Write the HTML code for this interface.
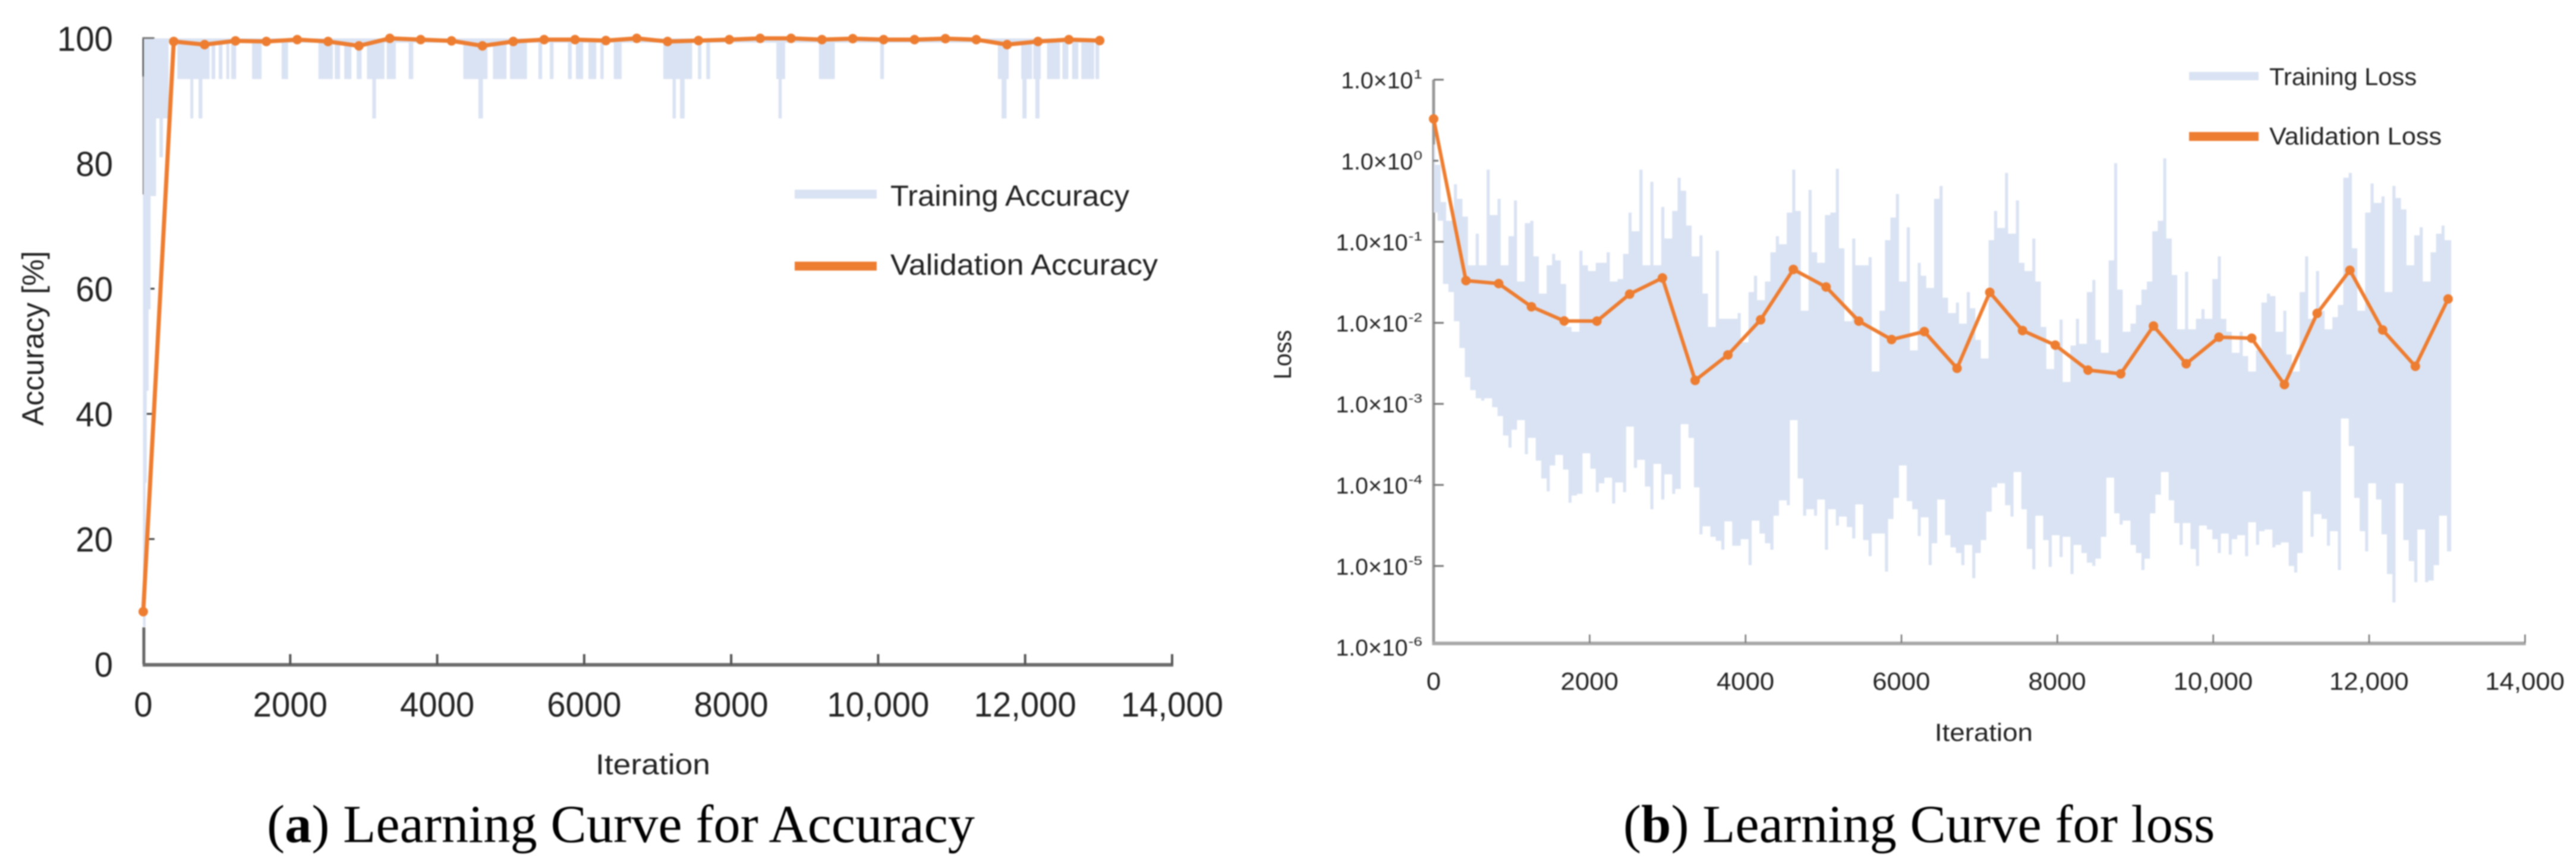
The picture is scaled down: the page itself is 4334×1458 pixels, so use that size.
<!DOCTYPE html>
<html lang="en">
<head>
<meta charset="utf-8">
<title>Learning curves for accuracy and loss</title>
<style>
html,body{margin:0;padding:0;background:#fff;width:4334px;height:1458px;overflow:hidden}
svg{display:block;filter:blur(1px)}
text{font-family:"Liberation Sans",sans-serif;fill:#222}
.cap{font-family:"Liberation Serif",serif;font-size:90.5px;fill:#000}
</style>
</head>
<body>
<svg id="figure" width="4334" height="1458" viewBox="0 0 4334 1458" xmlns="http://www.w3.org/2000/svg">
  <g id="panelA"></g>
  <g id="panelB"></g>

  <text transform="translate(73,716) rotate(-90)" font-size="51" textLength="294" lengthAdjust="spacingAndGlyphs" fill="#333">Accuracy [%]</text>
  <text x="1002" y="1302" font-size="48" textLength="193" lengthAdjust="spacingAndGlyphs" fill="#333">Iteration</text>
  <text transform="translate(2172,638) rotate(-90)" font-size="42" textLength="83" lengthAdjust="spacingAndGlyphs" fill="#333">Loss</text>
  <text x="3255" y="1246" font-size="42" textLength="165" lengthAdjust="spacingAndGlyphs" fill="#333">Iteration</text>

  <g>
    <rect x="1337" y="319" width="138" height="15" fill="#dae3f3"/>
    <text x="1498" y="346" font-size="49" textLength="402" lengthAdjust="spacingAndGlyphs">Training Accuracy</text>
    <rect x="1337" y="440" width="138" height="15" fill="#ed7d31"/>
    <text x="1498" y="462" font-size="49" textLength="450" lengthAdjust="spacingAndGlyphs">Validation Accuracy</text>
  </g>
  <g>
    <rect x="3683" y="121" width="117" height="14" fill="#dae3f3"/>
    <text x="3818" y="143" font-size="41" textLength="248" lengthAdjust="spacingAndGlyphs">Training Loss</text>
    <rect x="3683" y="222" width="117" height="15" fill="#ed7d31"/>
    <text x="3818" y="243" font-size="41" textLength="290" lengthAdjust="spacingAndGlyphs">Validation Loss</text>
  </g>

  <text class="cap" x="449" y="1416">(<tspan font-weight="bold">a</tspan>) Learning Curve for Accuracy</text>
  <text class="cap" x="2731" y="1416">(<tspan font-weight="bold">b</tspan>) Learning Curve for loss</text>
</svg>
<script>
// ---------- shared data ----------
const xTicks = [0, 2000, 4000, 6000, 8000, 10000, 12000, 14000];
const xTickLabels = ['0', '2000', '4000', '6000', '8000', '10,000', '12,000', '14,000'];
const validationIterations = [0,415,835,1255,1675,2095,2515,2935,3355,3775,4195,4615,5035,5455,5875,6295,6715,7135,7555,7975,8395,8815,9235,9655,10075,10495,10915,11335,11755,12175,12595,13015];

// ---------- accuracy chart data ----------
const accuracyTicks = [0, 20, 40, 60, 80, 100];
const validationAccuracy = [8.4,99.5,99.0,99.6,99.5,99.8,99.5,98.8,100,99.8,99.6,98.8,99.5,99.8,99.8,99.65,100,99.5,99.65,99.8,100,100,99.8,99.95,99.8,99.8,99.95,99.8,99.0,99.5,99.8,99.65];
const trainSpanStart = [0,0,0,0,0,0,0,221,464,929,1027,1130,1197,1481,1883,2384,2606,2735,2905,3044,3313,3612,4355,4758,4990,5377,5532,5779,5888,6058,6220,6402,7077,7548,7662,8615,9194,10028,11629,11947,12111,12298,12508,12639,12764,12957,640,753,3117,4561,7202,7304,8644,11680,11963,12139];
const trainSpanEnd = [13008,32,48,73,100,175,345,268,903,980,1078,1171,1264,1610,1971,2580,2678,2833,2972,3282,3437,3674,4685,4943,5222,5428,5583,5831,5986,6164,6266,6510,7469,7594,7713,8734,9410,10079,11776,12094,12213,12474,12588,12724,12940,13008,681,805,3168,4623,7248,7367,8689,11748,12020,12196];
const trainSpanLevel = [99.3,6,29,43.7,56.7,74.8,87.2,81,93.5,93.5,93.5,93.5,93.5,93.5,93.5,93.5,93.5,93.5,93.5,93.5,93.5,93.5,93.5,93.5,93.5,93.5,93.5,93.5,93.5,93.5,93.5,93.5,93.5,93.5,93.5,93.5,93.5,93.5,93.5,93.5,93.5,93.5,93.5,93.5,93.5,93.5,87.2,87.2,87.2,87.2,87.2,87.2,87.2,87.2,87.2,87.2];

// ---------- loss chart data ----------
const lossTickExponents = [1, 0, -1, -2, -3, -4, -5, -6];
const validationLoss = [3.28,0.0332,0.0305,0.0158,0.01055,0.0105,0.0226,0.0358,0.00195,0.00402,0.0109,0.0456,0.0277,0.0105,0.00622,0.0078,0.00275,0.0238,0.00804,0.00531,0.00261,0.00235,0.00914,0.00313,0.00665,0.00646,0.00173,0.0131,0.0445,0.00817,0.00291,0.0197];
const trainLossSampleEvery = 70;
const trainLossHighExp = [
.20,-.05,-.51,-.74,-.29,-.47,-.69,-1.29,-.90,-1.29,
-.11,-.67,-.47,-1.29,-.93,-.49,-1.49,-.77,-.74,-1.18,
-1.64,-1.29,-1.15,-1.23,-1.52,-2.05,-2.11,-1.11,-1.29,-1.36,
-1.26,-1.26,-1.13,-1.49,-1.46,-1.15,-.64,-.87,-.11,-1.29,
-.26,-1.29,-.57,-.96,-.62,-.21,-.37,-.80,-1.18,-.92,
-1.64,-2.05,-1.11,-1.95,-1.95,-1.95,-1.88,-2.24,-1.62,-1.42,
-1.72,-1.49,-1.13,-.93,-1.03,-.64,-.11,-.62,-1.85,-.36,
-1.13,-1.26,-.67,-.64,-.10,-1.08,-1.98,-.96,-1.29,-1.29,
-1.19,-2.60,-1.85,-.98,-.70,-.41,-1.49,-.82,-2.34,-1.26,
-1.42,-1.57,-.47,-.31,-1.69,-1.88,-1.75,-2.01,-1.62,-1.82,
-2.21,-2.44,-.98,-.62,-.83,-.15,-.90,-.49,-1.26,-1.36,
-.96,-1.49,-2.05,-2.57,-2.28,-1.96,-2.73,-2.28,-1.95,-2.26,
-1.62,-1.47,-2.21,-2.37,-1.23,-.03,-1.59,-2.11,-2.01,-1.78,
-1.59,-1.49,-.87,-.74,.03,-.96,-1.41,-2.08,-1.37,-2.08,
-1.95,-1.83,-1.95,-1.46,-1.18,-1.95,-2.11,-2.37,-2.11,-2.41,
-2.60,-2.34,-1.75,-1.64,-1.67,-2.11,-1.85,-2.39,-2.60,-1.62,
-1.18,-1.95,-1.36,-1.85,-2.08,-1.93,-1.78,-.21,-.15,-1.08,
-1.85,-.64,-.28,-.52,-.44,-1.62,-.31,-.46,-.60,-1.29,
-.92,-.82,-1.49,-1.13,-.90,-.80,-.98];
const trainLossLowExp = [
-.64,-.74,-1.52,-1.62,-1.98,-2.31,-2.67,-2.83,-2.93,-2.96,
-2.93,-3.04,-3.15,-3.39,-3.54,-3.32,-3.20,-3.62,-3.42,-3.70,
-3.92,-4.08,-3.76,-3.63,-3.81,-4.22,-4.13,-4.11,-3.61,-3.80,
-4.09,-3.98,-3.91,-4.23,-3.97,-4.09,-3.28,-3.79,-3.69,-4.02,
-4.30,-3.74,-4.18,-3.87,-4.11,-4.05,-3.25,-3.42,-4.03,-4.61,
-4.51,-4.64,-4.69,-4.80,-4.45,-4.75,-4.75,-4.67,-4.99,-4.44,
-4.60,-4.72,-4.80,-4.38,-4.19,-4.25,-3.20,-3.92,-4.38,-4.30,
-4.38,-4.18,-4.80,-4.30,-4.50,-4.39,-4.52,-4.66,-4.24,-4.68,
-4.88,-4.60,-4.60,-5.07,-4.42,-4.16,-3.76,-4.20,-4.30,-4.63,
-4.40,-4.99,-4.72,-4.18,-4.62,-4.77,-4.84,-4.99,-4.74,-5.15,
-4.84,-4.68,-4.33,-4.03,-3.98,-4.25,-4.39,-3.84,-4.30,-4.79,
-5.04,-4.38,-4.68,-5.01,-4.62,-4.89,-4.64,-5.10,-4.74,-4.84,
-4.96,-5.00,-4.91,-4.64,-3.91,-4.35,-4.49,-4.44,-4.74,-4.84,
-5.05,-4.91,-4.35,-4.12,-3.84,-4.19,-4.47,-4.74,-4.47,-4.79,
-5.00,-4.50,-4.55,-4.67,-4.84,-4.60,-4.86,-4.67,-4.62,-4.88,
-4.46,-4.74,-4.57,-4.55,-4.77,-4.74,-4.71,-5.00,-5.08,-4.84,
-4.08,-4.64,-4.36,-4.42,-4.75,-4.57,-5.05,-3.18,-3.52,-4.16,
-4.57,-4.82,-3.98,-4.18,-4.61,-5.10,-5.45,-3.98,-4.68,-4.94,
-5.20,-4.55,-5.20,-5.18,-4.99,-4.38,-4.82];

// ---------- helpers ----------
const NS = 'http://www.w3.org/2000/svg';
function add(parent, tag, props) {
  const el = document.createElementNS(NS, tag);
  for (const k in props) el.setAttribute(k, props[k]);
  parent.appendChild(el);
  return el;
}
function squeeze(el, k) {
  el.setAttribute('textLength', (el.getComputedTextLength() * k).toFixed(1));
  el.setAttribute('lengthAdjust', 'spacingAndGlyphs');
}

// ---------- axis functions ----------
const xA = it => 241 + it * (1972 - 241) / 14000;
const yA = v => 1117 - v * 10.525;
const xB = it => 2412 + it * (4248 - 2412) / 14000;
const yB = v => 134 + (1 - Math.log10(v)) * 136.3;
const yBExp = e => 134 + (1 - e) * 136.3;

// ---------- accuracy chart ----------
const A = document.getElementById('panelA');
accuracyTicks.forEach(v => {
  const tick = add(A, 'rect', {x: 241, y: yA(v) - 1.5, width: v === 0 ? 0 : 19, height: 3, fill: '#444'});
  
  
  const label = add(A, 'text', {x: 190, y: yA(v) + 21, 'font-size': 58, 'text-anchor': 'end'});
  
  
  label.textContent = String(v);
  squeeze(label, 0.97);
});
trainSpanStart.forEach((s, i) => {
  const x0 = xA(s) - (s === 0 ? 0.5 : 0);
  const bar = add(A, 'rect', {x: x0, y: yA(100), width: xA(trainSpanEnd[i]) - x0, height: yA(trainSpanLevel[i]) - yA(100), fill: '#dae3f3'});
  
  
});
const axA1 = add(A, 'rect', {x: 239.5, y: yA(100) - 1.5, width: 2.5, height: 66, fill: '#555'});


const axA1b = add(A, 'rect', {x: 240, y: 127, width: 1.5, height: 200, fill: '#777'});


const axTop = add(A, 'rect', {x: 239.5, y: yA(100) - 2, width: 19, height: 3, fill: '#777'});


const axA2 = add(A, 'rect', {x: 239.5, y: 1055, width: 5, height: 62, fill: '#666'});


const axAx = add(A, 'rect', {x: 240, y: 1115, width: xA(14000) - 238, height: 6, fill: '#6c6c6c'});


xTicks.forEach((t, i) => {
  if (t > 0) {
    const tick = add(A, 'rect', {x: xA(t) - 2, y: 1100, width: 4, height: 18, fill: '#555'});
    
    
  }
  const label = add(A, 'text', {x: xA(t), y: 1205, 'font-size': 58, 'text-anchor': 'middle'});
  
  
  label.textContent = xTickLabels[i];
  squeeze(label, 0.97);
});
const accLine = add(A, 'polyline', {
  points: validationIterations.map((t, i) => xA(t).toFixed(1) + ',' + yA(validationAccuracy[i]).toFixed(1)).join(' '),
  fill: 'none', stroke: '#ed7d31', 'stroke-width': 7, 'stroke-linejoin': 'round'
});


validationIterations.forEach((t, i) => {
  const dot = add(A, 'circle', {cx: xA(t), cy: yA(validationAccuracy[i]), r: 8, fill: '#ed7d31'});
  
  
});

// ---------- loss chart ----------
const B = document.getElementById('panelB');
const axBy = add(B, 'rect', {x: 2409.5, y: 134, width: 5, height: 951, fill: '#999'});


// Each sample is a narrow spike from its high to its low; a body joins neighbouring samples.
let d = '';
const spikeHalf = 20;
function boxPath(t0, t1, eTop, eBottom) {
  const x0 = xB(t0).toFixed(1);
  const x1 = xB(t1).toFixed(1);
  return 'M' + x0 + ' ' + yBExp(eTop).toFixed(1) + 'H' + x1 + 'V' + yBExp(eBottom).toFixed(1) + 'H' + x0 + 'Z';
}
trainLossHighExp.forEach((e, i) => {
  const t = i * trainLossSampleEvery;
  const last = i === trainLossHighExp.length - 1;
  d += boxPath(Math.max(0, t - spikeHalf), t + (last ? 35 : spikeHalf), e, trainLossLowExp[i]);
  if (!last) {
    const top = Math.min(e, trainLossHighExp[i + 1]);
    const bottom = Math.max(trainLossLowExp[i], trainLossLowExp[i + 1]);
    if (top > bottom) d += boxPath(t + spikeHalf - 1, t + trainLossSampleEvery - spikeHalf + 1, top, bottom);
  }
});
const trainLoss = add(B, 'path', {d: d, fill: '#dae3f3'});


lossTickExponents.forEach(e => {
  const y = yBExp(e);
  if (e !== -6) {
    const tick = add(B, 'rect', {x: 2412, y: y - 1.5, width: e === 0 ? 8 : 17, height: 3, fill: '#777'});
    
    
  }
  const sup = add(B, 'text', {x: 2393, y: y - 2, 'font-size': 21, 'text-anchor': 'end', fill: '#444'});
  
  
  sup.textContent = String(e);
  const supWidth = sup.getComputedTextLength() * 1.25;
  squeeze(sup, 1.25);
  const base = add(B, 'text', {x: 2392 - supWidth, y: y + 14.5, 'font-size': 38.5, 'text-anchor': 'end', fill: '#333'});
  
  
  base.textContent = '1.0\u00d710';
  squeeze(base, 1.02);
});
const axBx = add(B, 'rect', {x: 2409.5, y: 1079, width: xB(14000) - 2408, height: 6, fill: '#a8a8a8'});


xTicks.forEach((t, i) => {
  if (t > 0) {
    const tick = add(B, 'rect', {x: xB(t) - 1, y: 1067, width: 2.5, height: 14, fill: '#777'});
    
    
  }
  const label = add(B, 'text', {x: xB(t), y: 1160, 'font-size': 42, 'text-anchor': 'middle', fill: '#333'});
  
  
  label.textContent = xTickLabels[i];
  squeeze(label, 1.04);
});
const lossLine = add(B, 'polyline', {
  points: validationIterations.map((t, i) => xB(t).toFixed(1) + ',' + yB(validationLoss[i]).toFixed(1)).join(' '),
  fill: 'none', stroke: '#ed7d31', 'stroke-width': 6, 'stroke-linejoin': 'round'
});


validationIterations.forEach((t, i) => {
  const dot = add(B, 'circle', {cx: xB(t), cy: yB(validationLoss[i]), r: 8, fill: '#ed7d31'});
  
  
});
</script>
</body>
</html>
